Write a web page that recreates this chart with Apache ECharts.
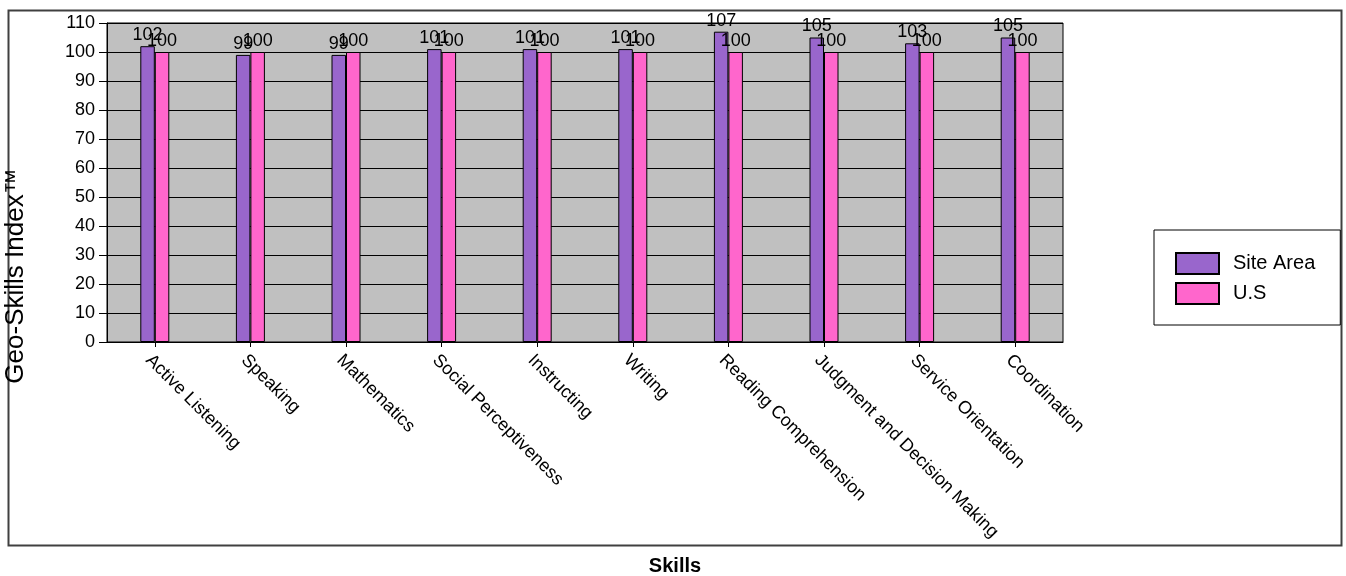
<!DOCTYPE html>
<html>
<head>
<meta charset="utf-8">
<script src="https://cdn.jsdelivr.net/npm/echarts@6/dist/echarts.min.js"></script>
<style>
html,body{margin:0;padding:0;background:#fff;}
#chart{width:1346px;height:576px;}
</style>
</head>
<body>
<div id="chart"></div>
<script>
const categories = ["Active Listening","Speaking","Mathematics","Social Perceptiveness","Instructing","Writing","Reading Comprehension","Judgment and Decision Making","Service Orientation","Coordination"];
const siteArea = [102, 99, 99, 101, 101, 101, 107, 105, 103, 105];
const us = [100, 100, 100, 100, 100, 100, 100, 100, 100, 100];
const seriesNames = ["Site Area", "U.S"];
const yAxisTitle = "Geo-Skills Index\u2122";
const xAxisTitle = "Skills";

const FONT = "Liberation Sans, Arial, Helvetica, sans-serif";
const chart = echarts.init(document.getElementById('chart'), null, {renderer: 'canvas'});
const labelCfg = {show: true, position: 'top', distance: 2, color: '#000', fontSize: 18, fontFamily: FONT};
chart.setOption({
  animation: false,
  backgroundColor: '#fff',
  textStyle: {fontFamily: FONT},
  grid: {left: 107, right: 283, top: 23, bottom: 234, show: true, backgroundColor: '#c0c0c0', borderColor: '#000', borderWidth: 1},
  legend: {
    orient: 'vertical', left: 1154, top: 230,
    data: seriesNames,
    icon: 'rect',
    borderColor: '#000', borderWidth: 1,
    padding: [22, 25, 20, 21],
    itemWidth: 43, itemHeight: 21, itemGap: 7,
    textStyle: {fontSize: 20, color: '#000', fontFamily: FONT, padding: [0, 0, 0, 9]}
  },
  xAxis: {
    type: 'category', data: categories,
    axisLine: {lineStyle: {color: '#000', width: 1}},
    axisTick: {show: true, alignWithLabel: true, length: 5, lineStyle: {color: '#000'}},
    axisLabel: {interval: 0, rotate: -45, margin: 9, verticalAlign: 'top', color: '#000', fontSize: 18, fontFamily: FONT}
  },
  yAxis: {
    type: 'value', min: 0, max: 110, interval: 10,
    axisLine: {show: true, lineStyle: {color: '#000', width: 1}},
    axisTick: {show: true, length: 8, lineStyle: {color: '#000'}},
    axisLabel: {margin: 12, color: '#000', fontSize: 18, fontFamily: FONT},
    splitLine: {show: true, lineStyle: {color: '#000', width: 1}}
  },
  series: [
    {name: seriesNames[0], type: 'bar', data: siteArea, barWidth: 14.5, barGap: '0%',
     itemStyle: {color: '#9966cc', borderColor: '#000', borderWidth: 1}, label: labelCfg},
    {name: seriesNames[1], type: 'bar', data: us, barWidth: 14.5, barGap: '0%',
     itemStyle: {color: '#ff66cc', borderColor: '#000', borderWidth: 1}, label: labelCfg}
  ],
  graphic: [
    {type: 'rect', shape: {x: 8.5, y: 10.5, width: 1333, height: 535}, style: {fill: 'none', stroke: '#404040', lineWidth: 2}, z: -1},
    {type: 'text', x: 16, y: 276, rotation: Math.PI / 2,
     style: {text: yAxisTitle, fontSize: 26, fontFamily: FONT, fill: '#000', align: 'center', verticalAlign: 'middle'}},
    {type: 'text', x: 675, y: 566,
     style: {text: xAxisTitle, fontSize: 20, fontWeight: 'bold', fontFamily: FONT, fill: '#000', align: 'center', verticalAlign: 'middle'}}
  ]
});
</script>
</body>
</html>
